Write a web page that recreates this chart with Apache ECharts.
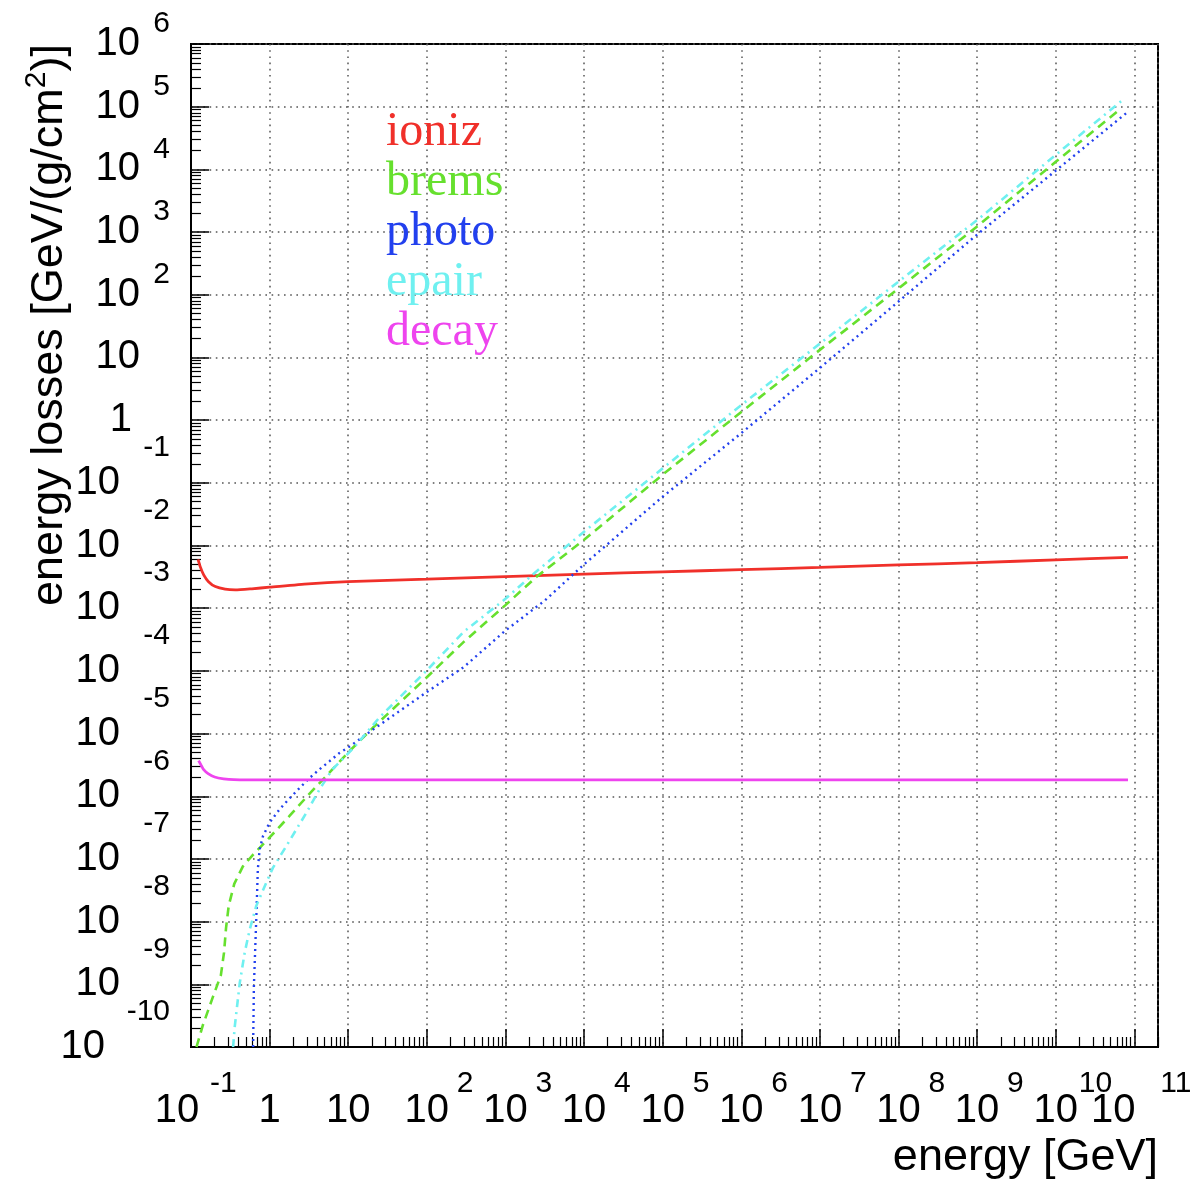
<!DOCTYPE html>
<html>
<head>
<meta charset="utf-8">
<title>energy losses</title>
<script src="https://cdn.jsdelivr.net/npm/echarts@6/dist/echarts.min.js"></script>
<style>
  html, body { margin: 0; padding: 0; background: #fff; }
  #chart { width: 1192px; height: 1180px; }
</style>
</head>
<body>
<div id="chart"></div>
<script>
// [energy GeV, loss GeV/(g/cm2)]
var ionizData = [
  [0.123, 6.0e-3], [0.131, 4.6e-3], [0.145, 3.4e-3], [0.167, 2.65e-3], [0.204, 2.21e-3],
  [0.272, 2.01e-3], [0.365, 1.96e-3], [0.594, 2.04e-3], [1, 2.16e-3], [3.1, 2.45e-3],
  [10, 2.65e-3], [100, 2.9e-3], [1e3, 3.19e-3], [1e4, 3.5e-3], [1e5, 3.8e-3],
  [1e6, 4.12e-3], [1e7, 4.47e-3], [1e8, 4.9e-3], [1e9, 5.33e-3], [1e10, 5.9e-3], [8.3e10, 6.46e-3]
];
var bremsData = [
  [0.1175, 1.0e-10], [0.141, 2.2e-10], [0.19, 6.3e-10], [0.24, 1.4e-9], [0.263, 3.2e-9],
  [0.279, 7.9e-9], [0.302, 1.8e-8], [0.355, 4.0e-8], [0.457, 7.6e-8], [0.617, 1.17e-7],
  [1, 2.2e-7], [1.78, 4.8e-7], [3.16, 1.07e-6], [5.62, 2.3e-6], [10, 5.0e-6],
  [20.9, 1.26e-5], [100, 7.9e-5], [295, 2.9e-4], [1e3, 1.12e-3], [2510, 3.2e-3],
  [1e4, 1.23e-2], [1e5, 0.135], [1e6, 1.35], [1e7, 13.2], [1e8, 126], [1e9, 1230],
  [1e10, 1.32e4], [6.8e10, 9.4e4]
];
var photoData = [
  [0.617, 1.0e-10], [0.631, 9.3e-10], [0.676, 1.07e-8], [0.708, 6.8e-8], [0.746, 1.41e-7],
  [0.822, 2.29e-7], [1, 3.8e-7], [1.34, 6.2e-7], [1.8, 9.3e-7], [2.4, 1.35e-6],
  [3.22, 1.95e-6], [4.32, 2.7e-6], [5.75, 3.6e-6], [7.73, 4.9e-6], [10, 6.0e-6],
  [20.9, 1.17e-5], [100, 4.6e-5], [295, 1.15e-4], [1e3, 4.4e-4], [3160, 1.32e-3],
  [1e4, 5.0e-3], [1e5, 0.06], [1e6, 0.62], [1e7, 6.8], [1e8, 78], [1e9, 912],
  [1e10, 9550], [8.3e10, 8.3e4]
];
var epairData = [
  [0.343, 1.0e-10], [0.36, 2.1e-10], [0.417, 1.05e-9], [0.482, 3.2e-9], [0.557, 7.4e-9],
  [0.676, 1.78e-8], [0.908, 4.2e-8], [1.1, 7.2e-8], [1.62, 1.58e-7], [2.92, 5.4e-7],
  [4.32, 1.29e-6], [6.31, 2.7e-6], [9.33, 4.4e-6], [12.6, 6.6e-6], [25.1, 1.82e-5],
  [100, 1.02e-4], [295, 4.2e-4], [1e3, 1.41e-3], [2290, 3.55e-3], [1e4, 1.66e-2],
  [1e5, 0.17], [1e6, 1.74], [1e7, 16.6], [1e8, 162], [1e9, 1550], [1e10, 1.7e4],
  [7.55e10, 1.36e5]
];
var decayData = [
  [0.125, 3.7e-6], [0.135, 3.1e-6], [0.145, 2.65e-6], [0.165, 2.3e-6], [0.2, 2.03e-6],
  [0.26, 1.9e-6], [0.35, 1.84e-6], [0.9, 1.82e-6], [10, 1.82e-6], [1e4, 1.82e-6],
  [8.3e10, 1.82e-6]
];

var seriesNames = ['ioniz', 'brems', 'photo', 'epair', 'decay'];
var seriesColors = ['#f0302a', '#66e02e', '#2240ee', '#6ff0f0', '#ee44ee'];

// axis ranges and ticks (decade exponents)
var xMin = 0.1, xMax = 2e11;
var yMin = 1e-10, yMax = 1e6;
var xDecades = [-1, 0, 1, 2, 3, 4, 5, 6, 7, 8, 9, 10, 11];
var yDecades = [-10, -9, -8, -7, -6, -5, -4, -3, -2, -1, 0, 1, 2, 3, 4, 5];
var minorSteps = [2, 3, 4, 5, 6, 7, 8, 9];

function minorTicks(decades) {
  var out = [];
  decades.forEach(function (d) {
    minorSteps.forEach(function (m) { out.push(d + Math.log10(m)); });
  });
  return out;
}

function decadeOf(v) {
  var e = Math.log10(v);
  var r = Math.round(e);
  return Math.abs(e - r) > 1e-6 ? null : r;
}

var sans = 'Liberation Sans';
var chart = echarts.init(document.getElementById('chart'));

var gridLine = { show: true, lineStyle: { color: '#555', width: 1.5, type: [1.6, 4.6] } };

chart.setOption({
  backgroundColor: '#fff',
  animation: false,
  grid: {
    left: 191, right: 34, top: 44, bottom: 133,
    show: true, borderColor: '#000', borderWidth: 2,
    containLabel: false, outerBoundsMode: 'none'
  },
  legend: {
    orient: 'vertical', left: 380, top: 107, padding: 0,
    itemGap: 0, itemWidth: 0, itemHeight: 0,
    selectedMode: false,
    itemStyle: { opacity: 0 }, lineStyle: { opacity: 0 },
    textStyle: { fontFamily: 'Liberation Serif', fontSize: 48, lineHeight: 50 },
    data: seriesNames.map(function (n, i) {
      return { name: n, textStyle: { color: seriesColors[i] } };
    })
  },
  xAxis: [
    {
      // main energy axis
      type: 'log', logBase: 10, min: xMin, max: xMax, interval: 1, splitNumber: 12,
      position: 'bottom',
      axisLine: { show: true, onZero: false, lineStyle: { color: '#000', width: 2 } },
      axisTick: { show: true, inside: true, length: 18, lineStyle: { color: '#000', width: 1.5 } },
      splitLine: gridLine,
      axisLabel: {
        show: true, margin: 44, hideOverlap: false, showMinLabel: true, showMaxLabel: true,
        fontFamily: sans, fontSize: 40, color: '#000',
        formatter: function (v) {
          var r = decadeOf(v);
          if (r === null) return '';
          if (r === 0) return '1';
          if (r === -1) return '{l1|10}';
          if (r === 11) return '{l2|10}';
          return '10';
        },
        rich: {
          l1: { fontFamily: sans, fontSize: 40, color: '#000', padding: [0, 28, 0, 0] },
          l2: { fontFamily: sans, fontSize: 40, color: '#000', padding: [0, 42, 0, 0] }
        }
      }
    },
    {
      // minor ticks + exponents, in log10 units
      type: 'value', min: -1, max: Math.log10(xMax), interval: 1,
      position: 'bottom',
      axisLine: { show: false, onZero: false },
      splitLine: { show: false },
      axisTick: {
        show: true, inside: true, length: 10, customValues: minorTicks(xDecades),
        lineStyle: { color: '#000', width: 1.2 }
      },
      axisLabel: {
        show: true, margin: 22, align: 'left', hideOverlap: false,
        showMinLabel: true, showMaxLabel: true,
        fontFamily: sans, fontSize: 30, color: '#000',
        formatter: function (v) {
          var r = Math.round(v);
          if (Math.abs(v - r) > 1e-6 || r === 0 || r === 1) return '';
          var key = r === -1 ? 'a' : r === 10 ? 'b' : r === 11 ? 'c' : 'd';
          return '{' + key + '|' + r + '}';
        },
        rich: {
          a: { fontFamily: sans, fontSize: 30, color: '#000', padding: [0, 0, 0, 19] },
          b: { fontFamily: sans, fontSize: 30, color: '#000', padding: [0, 0, 0, 23] },
          c: { fontFamily: sans, fontSize: 30, color: '#000', padding: [0, 0, 0, 26] },
          d: { fontFamily: sans, fontSize: 30, color: '#000', padding: [0, 0, 0, 30] }
        }
      }
    }
  ],
  yAxis: [
    {
      // main loss axis
      type: 'log', logBase: 10, min: yMin, max: yMax, interval: 1, splitNumber: 16,
      position: 'left',
      axisLine: { show: true, onZero: false, lineStyle: { color: '#000', width: 2 } },
      axisTick: { show: true, inside: true, length: 18, lineStyle: { color: '#000', width: 1.5 } },
      splitLine: gridLine,
      axisLabel: {
        show: true, margin: 21, hideOverlap: false, showMinLabel: true, showMaxLabel: true,
        fontFamily: sans, fontSize: 40, color: '#000',
        formatter: function (v) {
          var r = decadeOf(v);
          if (r === null) return '';
          if (r === 0) return '{one|1}';
          if (r === 1) return '{p1|10}';
          return '{p' + String(r).length + '|10}';
        },
        rich: {
          one: { fontFamily: sans, fontSize: 40, color: '#000', padding: [0, 38, 0, 0] },
          p1: { fontFamily: sans, fontSize: 40, color: '#000', padding: [0, 30, 0, 0] },
          p2: { fontFamily: sans, fontSize: 40, color: '#000', padding: [0, 50, 0, 0] },
          p3: { fontFamily: sans, fontSize: 40, color: '#000', padding: [0, 65, 0, 0] }
        }
      }
    },
    {
      // minor ticks + exponents, in log10 units
      type: 'value', min: -10, max: 6, interval: 1,
      position: 'left',
      axisLine: { show: false, onZero: false },
      splitLine: { show: false },
      axisTick: {
        show: true, inside: true, length: 10, customValues: minorTicks(yDecades),
        lineStyle: { color: '#000', width: 1.2 }
      },
      axisLabel: {
        show: true, margin: 21, verticalAlign: 'bottom', hideOverlap: false,
        showMinLabel: true, showMaxLabel: true,
        fontFamily: sans, fontSize: 30, color: '#000',
        formatter: function (v) {
          var r = Math.round(v);
          if (Math.abs(v - r) > 1e-6 || r === 0 || r === 1) return '';
          return '{' + (r < 0 ? 'n' : 'p') + '|' + r + '}';
        },
        rich: {
          p: { fontFamily: sans, fontSize: 30, color: '#000', lineHeight: 40 },
          n: { fontFamily: sans, fontSize: 30, color: '#000', lineHeight: 70 }
        }
      }
    }
  ],
  graphic: [
    {
      type: 'text', x: 50, y: 325, rotation: Math.PI / 2,
      style: {
        text: 'energy losses [GeV/(g/cm{s|2})]',
        fill: '#000', font: '45px "Liberation Sans"',
        align: 'center', verticalAlign: 'middle',
        rich: { s: { fontFamily: sans, fontSize: 30, fill: '#000', padding: [0, 0, 26, 0] } }
      }
    },
    {
      type: 'text', right: 34, top: 1135,
      style: { text: 'energy [GeV]', fill: '#000', font: '45px "Liberation Sans"' }
    }
  ],
  series: [
    { name: 'ioniz', data: ionizData, width: 2.8, type: 'solid', smooth: 0.2 },
    { name: 'brems', data: bremsData, width: 2.6, type: [9, 6], smooth: false },
    { name: 'photo', data: photoData, width: 2.4, type: [2, 4], smooth: false },
    { name: 'epair', data: epairData, width: 2.6, type: [8, 5, 2, 5], smooth: false },
    { name: 'decay', data: decayData, width: 2.8, type: 'solid', smooth: 0.2 }
  ].map(function (s, i) {
    return {
      name: s.name,
      type: 'line',
      xAxisIndex: 0,
      yAxisIndex: 0,
      data: s.data,
      showSymbol: false,
      smooth: s.smooth,
      clip: true,
      lineStyle: { color: seriesColors[i], width: s.width, type: s.type },
      itemStyle: { color: seriesColors[i] },
      emphasis: { disabled: true }
    };
  })
});
</script>
</body>
</html>
